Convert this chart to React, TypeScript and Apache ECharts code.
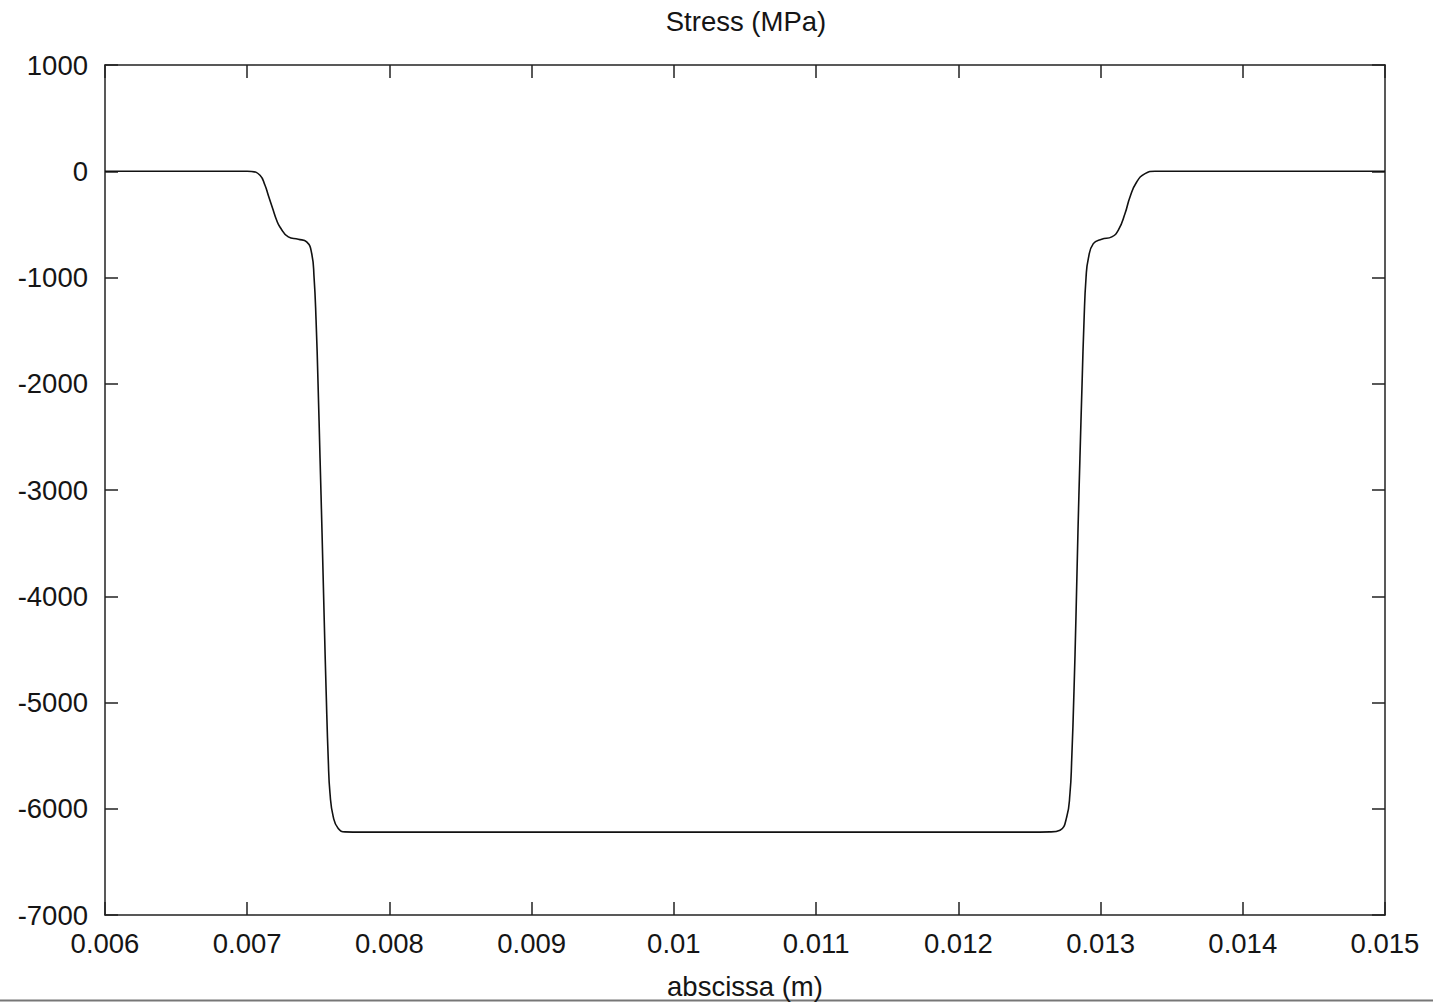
import React, { useEffect, useRef } from "react";
import * as echarts from "echarts";

const xTickValues = [0.006, 0.007, 0.008, 0.009, 0.01, 0.011, 0.012, 0.013, 0.014, 0.015];
const yTickValues = [1000, 0, -1000, -2000, -3000, -4000, -5000, -6000, -7000];

// abscissa (m)
const abscissa = [
  0.006, 0.0069, 0.00700, 0.007031, 0.00709, 0.007125, 0.007148, 0.007183, 0.007207, 0.00723,
  0.007289, 0.007359, 0.007418, 0.007453, 0.00747, 0.007484, 0.007498, 0.007512, 0.007526,
  0.007541, 0.007555, 0.00757, 0.007582, 0.007605, 0.00764, 0.007688, 0.0078,
  0.0125, 0.012644, 0.012715, 0.012762, 0.012785, 0.012797, 0.012813, 0.012827, 0.012841,
  0.012855, 0.01287, 0.012884, 0.012898, 0.012914, 0.012949, 0.013008, 0.013079, 0.013125,
  0.013172, 0.013207, 0.013254, 0.013313, 0.013383, 0.0135, 0.015,
];
// Stress (MPa)
const stress = [
  0, 0, 0, -2, -38, -132, -226, -367, -461, -524,
  -618, -640, -665, -772, -1000, -1400, -2000, -2700, -3400,
  -4200, -4900, -5544, -5854, -6077, -6187, -6218, -6220,
  -6220, -6218, -6202, -6077, -5854, -5544, -4900, -4200, -3400,
  -2700, -2000, -1400, -1000, -822, -681, -640, -618, -555,
  -398, -242, -101, -22, 0, 0, 0,
];

const FONT = "'Liberation Sans', Arial, sans-serif";
const TEXT = "#151515";

export default function App() {
  const ref = useRef<HTMLDivElement>(null);
  useEffect(() => {
    document.body.style.margin = "0";
    const chart = echarts.init(ref.current!, null, { renderer: "svg" });
    const data = abscissa.map((x, i) => [x, stress[i]]);
    const axisLine = { show: true, onZero: false, lineStyle: { color: "#222", width: 1.5 } };
    const axisTick = { show: true, inside: true, length: 13, lineStyle: { color: "#222", width: 1.5 } };
    chart.setOption({
      animation: false,
      backgroundColor: "#ffffff",
      title: {
        text: "Stress (MPa)",
        left: 741,
        top: 2,
        textAlign: "center",
        textStyle: { fontFamily: FONT, fontSize: 27.5, fontWeight: "normal", color: TEXT },
      },
      grid: {
        left: 105,
        right: 48,
        top: 65,
        bottom: 87,
        containLabel: false,
        outerBoundsMode: "none",
      },
      xAxis: [
        {
          type: "value",
          min: xTickValues[0],
          max: xTickValues[xTickValues.length - 1],
          interval: 0.001,
          position: "bottom",
          name: "abscissa (m)",
          nameLocation: "middle",
          nameGap: 57,
          nameTextStyle: { fontFamily: FONT, fontSize: 27.5, color: TEXT },
          axisLine,
          axisTick,
          splitLine: { show: false },
          axisLabel: {
            margin: 14,
            fontFamily: FONT,
            fontSize: 27.5,
            color: TEXT,
            formatter: (v: number) => parseFloat(v.toFixed(3)).toString(),
          },
        },
        {
          type: "value",
          min: xTickValues[0],
          max: xTickValues[xTickValues.length - 1],
          interval: 0.001,
          position: "top",
          axisLine,
          axisTick,
          splitLine: { show: false },
          axisLabel: { show: false },
        },
      ],
      yAxis: [
        {
          type: "value",
          min: yTickValues[yTickValues.length - 1],
          max: yTickValues[0],
          interval: 1000,
          position: "left",
          axisLine,
          axisTick,
          splitLine: { show: false },
          axisLabel: {
            margin: 17,
            fontFamily: FONT,
            fontSize: 27.5,
            color: TEXT,
            formatter: (v: number) => String(Math.round(v)),
          },
        },
        {
          type: "value",
          min: yTickValues[yTickValues.length - 1],
          max: yTickValues[0],
          interval: 1000,
          position: "right",
          axisLine,
          axisTick,
          splitLine: { show: false },
          axisLabel: { show: false },
        },
      ],
      series: [
        {
          type: "line",
          data,
          xAxisIndex: 0,
          yAxisIndex: 0,
          showSymbol: false,
          smooth: 0.5,
          lineStyle: { color: "#111", width: 1.6 },
        },
      ],
      graphic: [
        {
          type: "line",
          shape: { x1: 0, y1: 1000.5, x2: 1433, y2: 1000.5 },
          style: { stroke: "#777", lineWidth: 2 },
        },
      ],
    });
    return () => chart.dispose();
  }, []);
  return <div ref={ref} style={{ width: 1433, height: 1002 }} />;
}
